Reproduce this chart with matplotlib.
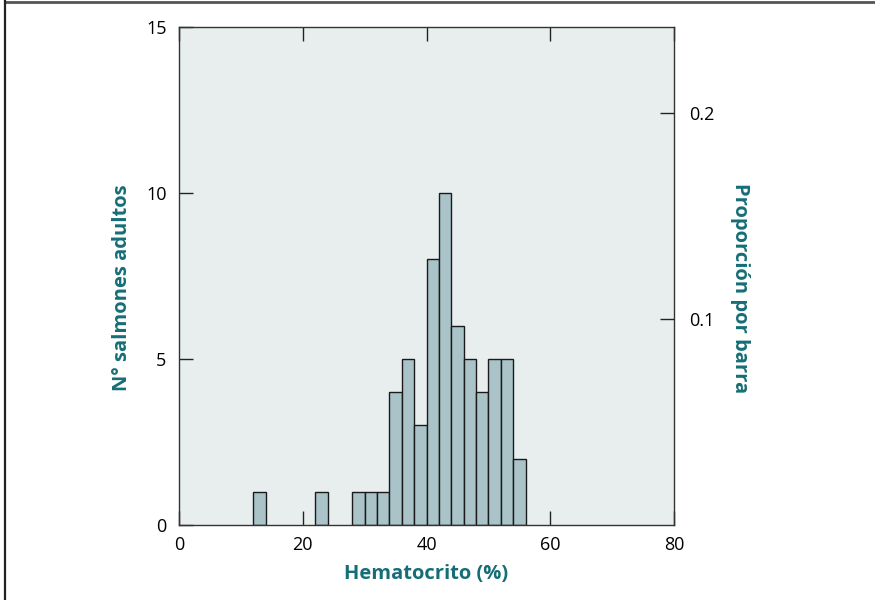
import matplotlib
matplotlib.use("Agg")
import matplotlib.pyplot as plt
from matplotlib.lines import Line2D

# ── Data ──────────────────────────────────────────────────────────────────────
bin_left = [12, 22, 28, 30, 32, 34, 36, 38, 40, 42, 44, 46, 48, 50, 52, 54]
counts   = [1, 1, 1, 1, 1, 4, 5, 3, 8, 10, 6, 5, 4, 5, 5, 2]
bin_width = 2

x_ticks = [0, 20, 40, 60, 80]
y_ticks = [0, 5, 10, 15]
prop_ticks = [0.1, 0.2]

# ── Appearance ────────────────────────────────────────────────────────────────
TEAL = "#156e76"
BAR = "#a9c3c8"
BG = "#e8eeee"
plt.rcParams["font.family"] = ["Open Sans", "DejaVu Sans"]

fig = plt.figure(figsize=(8.75, 6), dpi=100)
ax = fig.add_axes([179 / 875, 1 - 525 / 600, 495 / 875, 498 / 600])
ax.set_facecolor(BG)

ax.bar(bin_left, counts, width=bin_width, align="edge",
       color=BAR, edgecolor="#1a1a1a", linewidth=1.0, zorder=2)

ax.set_xlim(0, 80)
ax.set_ylim(0, 15)
ax.set_xticks(x_ticks)
ax.set_yticks(y_ticks)
ax.tick_params(axis="both", direction="in", length=10, width=1, color="#222222",
               labelsize=13, pad=8, top=True, right=False)
ax.tick_params(axis="y", pad=9)
for s in ax.spines.values():
    s.set_color("#333333")
    s.set_linewidth(1)

ax.set_xlabel("Hematocrito (%)", color=TEAL, fontsize=14.5, fontweight="bold", labelpad=7)
ax.set_ylabel("N° salmones adultos", color=TEAL, fontsize=14.5, fontweight="bold",
              va="center")
ax.yaxis.set_label_coords(-0.115, 0.476)

total = sum(counts)
ax2 = ax.twinx()
ax2.set_ylim(0, 15 / total)
ax2.set_yticks(prop_ticks)
ax2.set_yticklabels([f"{t:.1f}" for t in prop_ticks])
ax2.tick_params(axis="y", direction="in", length=10, width=1, color="#222222",
                labelsize=13, pad=11)
for s in ax2.spines.values():
    s.set_visible(False)
ax2.set_ylabel("Proporción por barra", color=TEAL, fontsize=14.5, fontweight="bold",
               rotation=-90, va="center")
ax2.yaxis.set_label_coords(1.133, 0.476)

# frame lines at the top and left edge of the page
fig.add_artist(Line2D([5 / 875, 1], [1 - 1.5 / 600] * 2, transform=fig.transFigure,
                      color="#555555", linewidth=2))
fig.add_artist(Line2D([5 / 875] * 2, [0, 1], transform=fig.transFigure,
                      color="#222222", linewidth=1.6))

fig.savefig("out.png", dpi=100)
